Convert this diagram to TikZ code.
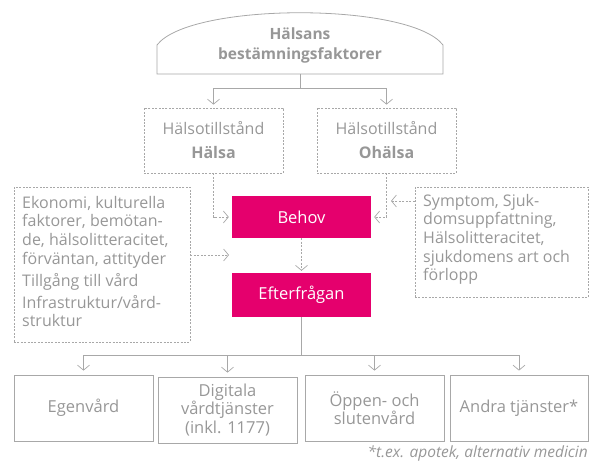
\documentclass[tikz,border=0pt]{standalone}
\usepackage{fontspec}
\setmainfont{Open Sans}
\usetikzlibrary{arrows.meta}
\definecolor{gr}{HTML}{A8A8A8}
\definecolor{txt}{HTML}{979797}
\definecolor{pinkc}{HTML}{E5006D}
\begin{document}
\begin{tikzpicture}[x=1pt,y=-1pt,
  every node/.style={text=txt, inner sep=0pt, font=\fontsize{16}{18.6}\selectfont},
  dbox/.style={draw=gr, dash pattern=on 2pt off 1.4pt, line width=0.7pt},
  sbox/.style={draw=gr, line width=0.8pt, minimum width=139pt, minimum height=66pt, align=center, font=\fontsize{16.5}{18.5}\selectfont},
  pbox/.style={fill=pinkc, text=white, minimum width=139pt, font=\fontsize{16.5}{18}\selectfont},
  tip/.style={-{Straight Barb[length=5pt,width=12pt,line width=0.7pt]}},
  darr/.style={tip, draw=gr, line width=0.7pt, dash pattern=on 2pt off 1.5pt},
  sarr/.style={tip, draw=gr, line width=0.8pt},
  sline/.style={draw=gr, line width=0.8pt}]
\useasboundingbox (0,0) rectangle (590,462);
% title arch
\draw[gr, line width=0.8pt] (157,74) -- (157,45) .. controls (190,2) and (410,2) .. (443,45) -- (443,74) -- cycle;
\node[font=\fontsize{15.5}{20}\selectfont\bfseries, align=center] (title) at (300,45) {Hälsans\\bestämningsfaktorer};
\coordinate (tbot) at (300,74);
\coordinate (tsplit) at (300,88);
% health state boxes
\node[dbox, minimum width=139pt, minimum height=65pt, align=center, font=\fontsize{16}{18}\selectfont] (hal) at (213.5,140.5)
  {Hälsotillstånd\\[6pt]\textbf{Hälsa}};
\node[dbox, minimum width=139pt, minimum height=65pt, align=center, font=\fontsize{16}{18}\selectfont] (ohal) at (386.5,140.5)
  {Hälsotillstånd\\[6pt]\textbf{Ohälsa}};
% pink boxes
\node[pbox, minimum height=42pt] (behov) at (301.5,217) {Behov};
\node[pbox, minimum height=44pt] (efter) at (301.5,295) {Efterfrågan};
% side text boxes
\node[dbox, minimum width=176pt, minimum height=155pt] (ltxt) at (102,264.5) {};
\node[anchor=north west, align=left] (ltxtc) at (22,196)
  {Ekonomi, kulturella\\faktorer, bemötan-\\de, hälsolitteracitet,\\förväntan, attityder\\[4pt]Tillgång till vård\\[3pt]Infrastruktur/vård-\\struktur};
\node[dbox, minimum width=173pt, minimum height=110pt] (rtxt) at (501.5,242) {};
\node[anchor=north west, align=left] (rtxtc) at (423,194)
  {Symptom, Sjuk-\\domsuppfattning,\\Hälsolitteracitet,\\sjukdomens art och\\förlopp};
% bottom boxes
\node[sbox] (b1) at (83.5,408) {Egenvård};
\node[sbox] (b2) at (227.5,410) {Digitala\\vårdtjänster\\(inkl. 1177)};
\node[sbox] (b3) at (374.5,408) {Öppen- och\\slutenvård};
\node[sbox, minimum width=138pt] (b4) at (519,408) {Andra tjänster*};
\node[anchor=base east, font=\fontsize{15.5}{16}\selectfont\itshape] (foot) at (588,457.5) {*t.ex. apotek, alternativ medicin};
% connectors top
\draw[sline] (tbot) -- (tsplit);
\draw[sarr, shorten >=3pt] (tsplit) -| (hal.north);
\draw[sarr, shorten >=3pt] (tsplit) -| (ohal.north);
% dashed to Behov
\draw[darr, shorten >=3pt] (hal.south) |- (behov.west);
\draw[darr, shorten >=3pt] (ohal.south) |- (behov.east);
\coordinate (lend) at (229,255);
\draw[darr] (ltxt.east |- lend) -- (lend);
\coordinate (rend) at (391,201);
\draw[darr] (rtxt.west |- rend) -- (rend);
\draw[darr, shorten >=2pt] (behov.south) -- (efter.north);
% bottom connectors
\coordinate (bsplit) at (301.5,355);
\draw[sline] (efter.south) -- (bsplit);
\foreach \b in {b1,b2,b3,b4}{
  \draw[sarr, shorten >=4pt] (bsplit) -| (\b.north);
}
\end{tikzpicture}
\end{document}
